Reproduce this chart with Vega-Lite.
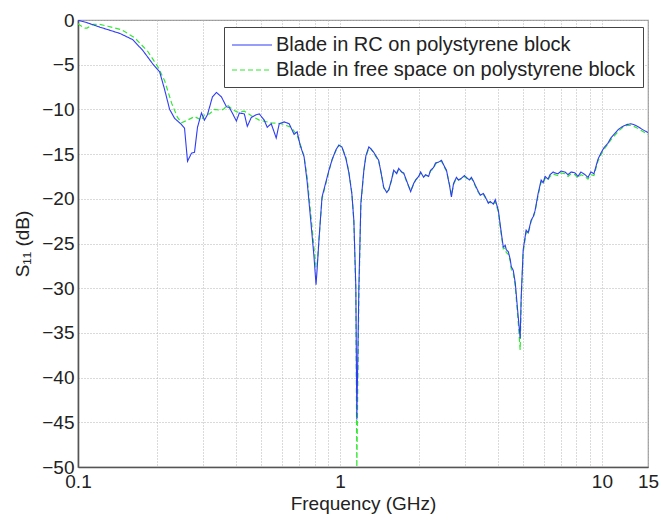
{
  "$schema": "https://vega.github.io/schema/vega-lite/v6.json",
  "autosize": "none",
  "width": 570,
  "height": 447,
  "padding": {"left": 78, "top": 20, "right": 13, "bottom": 53},
  "background": "white",
  "config": {
    "font": "Liberation Sans",
    "view": {"stroke": "#9a9a9a", "strokeWidth": 1.2},
    "axis": {
      "labelFont": "Liberation Sans",
      "titleFont": "Liberation Sans",
      "labelFontSize": 19,
      "titleFontSize": 19,
      "titleFontWeight": "normal",
      "labelColor": "#222",
      "titleColor": "#222",
      "domainColor": "#555",
      "domainWidth": 1.6,
      "gridColor": "#b4b4b4",
      "gridDash": [1, 2],
      "gridWidth": 1,
      "ticks": false
    },
    "legend": {"labelFont": "Liberation Sans", "labelFontSize": 20, "labelColor": "#222"}
  },
  "datasets": {
    "rc": [
      {"f": 0.1, "s": 0.0}, {"f": 0.1018, "s": -0.1}, {"f": 0.1082, "s": -0.3}, {"f": 0.1212, "s": -0.8},
      {"f": 0.1444, "s": -1.5}, {"f": 0.1618, "s": -2.2}, {"f": 0.1767, "s": -3.4}, {"f": 0.1928, "s": -4.9},
      {"f": 0.205, "s": -5.8}, {"f": 0.2142, "s": -7.8}, {"f": 0.2238, "s": -10.0}, {"f": 0.2338, "s": -11.0},
      {"f": 0.2485, "s": -11.7}, {"f": 0.2551, "s": -12.1}, {"f": 0.2619, "s": -15.8}, {"f": 0.2712, "s": -14.9},
      {"f": 0.2785, "s": -14.8}, {"f": 0.2859, "s": -12.0}, {"f": 0.2961, "s": -10.4}, {"f": 0.304, "s": -11.2},
      {"f": 0.312, "s": -10.6}, {"f": 0.326, "s": -8.6}, {"f": 0.3377, "s": -8.1}, {"f": 0.3528, "s": -8.6},
      {"f": 0.3686, "s": -9.7}, {"f": 0.3784, "s": -9.8}, {"f": 0.3882, "s": -10.4}, {"f": 0.4024, "s": -11.3},
      {"f": 0.413, "s": -10.4}, {"f": 0.4315, "s": -10.5}, {"f": 0.4429, "s": -11.9}, {"f": 0.4588, "s": -10.9},
      {"f": 0.4794, "s": -10.6}, {"f": 0.492, "s": -10.5}, {"f": 0.514, "s": -11.2}, {"f": 0.5277, "s": -12.0},
      {"f": 0.5466, "s": -11.6}, {"f": 0.5711, "s": -13.2}, {"f": 0.5865, "s": -11.6}, {"f": 0.6124, "s": -11.4},
      {"f": 0.64, "s": -11.6}, {"f": 0.6685, "s": -12.8}, {"f": 0.6864, "s": -12.5}, {"f": 0.7047, "s": -14.0},
      {"f": 0.7297, "s": -15.3}, {"f": 0.749, "s": -18.0}, {"f": 0.7757, "s": -22.8}, {"f": 0.7962, "s": -26.5},
      {"f": 0.8105, "s": -29.6}, {"f": 0.8177, "s": -28.0}, {"f": 0.832, "s": -24.5}, {"f": 0.8543, "s": -19.8},
      {"f": 0.908, "s": -16.8}, {"f": 0.934, "s": -15.6}, {"f": 0.966, "s": -14.5}, {"f": 0.991, "s": -14.0},
      {"f": 1.0177, "s": -14.2}, {"f": 1.054, "s": -15.5}, {"f": 1.082, "s": -17.1}, {"f": 1.111, "s": -19.5},
      {"f": 1.13, "s": -22.4}, {"f": 1.15, "s": -29.9}, {"f": 1.16, "s": -44.7}, {"f": 1.181, "s": -30.0},
      {"f": 1.202, "s": -20.5}, {"f": 1.234, "s": -16.8}, {"f": 1.256, "s": -15.2}, {"f": 1.289, "s": -14.2},
      {"f": 1.312, "s": -14.4}, {"f": 1.346, "s": -14.8}, {"f": 1.406, "s": -15.7}, {"f": 1.444, "s": -17.5},
      {"f": 1.469, "s": -18.7}, {"f": 1.509, "s": -19.3}, {"f": 1.536, "s": -19.0}, {"f": 1.576, "s": -17.8},
      {"f": 1.604, "s": -16.8}, {"f": 1.647, "s": -17.2}, {"f": 1.676, "s": -16.6}, {"f": 1.721, "s": -17.0},
      {"f": 1.751, "s": -17.1}, {"f": 1.798, "s": -18.0}, {"f": 1.862, "s": -19.2}, {"f": 1.911, "s": -18.3},
      {"f": 1.945, "s": -17.9}, {"f": 1.998, "s": -17.5}, {"f": 2.032, "s": -17.0}, {"f": 2.087, "s": -17.6},
      {"f": 2.123, "s": -17.3}, {"f": 2.18, "s": -17.5}, {"f": 2.218, "s": -16.8}, {"f": 2.278, "s": -16.5},
      {"f": 2.317, "s": -16.0}, {"f": 2.379, "s": -15.9}, {"f": 2.442, "s": -15.7}, {"f": 2.507, "s": -16.4},
      {"f": 2.551, "s": -16.8}, {"f": 2.62, "s": -18.5}, {"f": 2.665, "s": -19.8}, {"f": 2.714, "s": -18.3},
      {"f": 2.784, "s": -17.6}, {"f": 2.835, "s": -17.9}, {"f": 2.909, "s": -17.7}, {"f": 2.987, "s": -17.4},
      {"f": 3.039, "s": -17.6}, {"f": 3.121, "s": -17.9}, {"f": 3.175, "s": -17.6}, {"f": 3.232, "s": -18.0},
      {"f": 3.288, "s": -18.5}, {"f": 3.377, "s": -19.2}, {"f": 3.436, "s": -19.6}, {"f": 3.528, "s": -19.4},
      {"f": 3.59, "s": -19.8}, {"f": 3.686, "s": -20.5}, {"f": 3.75, "s": -20.3}, {"f": 3.852, "s": -20.6},
      {"f": 3.918, "s": -20.1}, {"f": 4.025, "s": -21.3}, {"f": 4.13, "s": -23.8}, {"f": 4.204, "s": -25.4},
      {"f": 4.277, "s": -25.2}, {"f": 4.315, "s": -25.7}, {"f": 4.392, "s": -25.9}, {"f": 4.47, "s": -26.8},
      {"f": 4.51, "s": -27.6}, {"f": 4.588, "s": -28.0}, {"f": 4.67, "s": -29.4}, {"f": 4.793, "s": -33.2},
      {"f": 4.876, "s": -35.6}, {"f": 4.92, "s": -31.0}, {"f": 5.007, "s": -25.7}, {"f": 5.14, "s": -23.5},
      {"f": 5.233, "s": -23.8}, {"f": 5.37, "s": -22.4}, {"f": 5.467, "s": -22.0}, {"f": 5.56, "s": -21.3},
      {"f": 5.711, "s": -19.4}, {"f": 5.864, "s": -17.9}, {"f": 5.967, "s": -18.2}, {"f": 6.07, "s": -17.5},
      {"f": 6.232, "s": -17.8}, {"f": 6.34, "s": -17.3}, {"f": 6.513, "s": -17.0}, {"f": 6.62, "s": -17.1},
      {"f": 6.8, "s": -17.2}, {"f": 6.985, "s": -16.9}, {"f": 7.23, "s": -17.0}, {"f": 7.43, "s": -17.3},
      {"f": 7.625, "s": -17.0}, {"f": 7.89, "s": -17.1}, {"f": 8.1, "s": -17.5}, {"f": 8.32, "s": -17.0},
      {"f": 8.62, "s": -17.3}, {"f": 8.85, "s": -17.6}, {"f": 9.08, "s": -17.0}, {"f": 9.324, "s": -17.2},
      {"f": 9.49, "s": -16.4}, {"f": 9.656, "s": -15.6}, {"f": 9.91, "s": -14.9}, {"f": 10.18, "s": -14.3},
      {"f": 10.54, "s": -13.8}, {"f": 10.82, "s": -13.2}, {"f": 11.2, "s": -12.7}, {"f": 11.6, "s": -12.2},
      {"f": 12.02, "s": -11.9}, {"f": 12.45, "s": -11.7}, {"f": 12.9, "s": -11.6}, {"f": 13.24, "s": -11.7},
      {"f": 13.7, "s": -11.9}, {"f": 14.19, "s": -12.2}, {"f": 15.0, "s": -12.6}
    ],
    "fs": [
      {"f": 0.1, "s": -0.4}, {"f": 0.1018, "s": -0.6}, {"f": 0.1063, "s": -0.9}, {"f": 0.1082, "s": -0.9},
      {"f": 0.114, "s": -0.5}, {"f": 0.1212, "s": -0.5}, {"f": 0.13, "s": -0.7}, {"f": 0.147, "s": -1.1},
      {"f": 0.1647, "s": -2.0}, {"f": 0.1845, "s": -3.5}, {"f": 0.2015, "s": -5.2}, {"f": 0.2142, "s": -6.8},
      {"f": 0.2277, "s": -9.3}, {"f": 0.2399, "s": -10.9}, {"f": 0.2485, "s": -11.5}, {"f": 0.2619, "s": -11.2},
      {"f": 0.2785, "s": -10.8}, {"f": 0.2961, "s": -11.2}, {"f": 0.304, "s": -10.6}, {"f": 0.3175, "s": -10.5},
      {"f": 0.3318, "s": -10.0}, {"f": 0.3528, "s": -10.1}, {"f": 0.3622, "s": -9.9}, {"f": 0.3717, "s": -9.5},
      {"f": 0.3882, "s": -10.0}, {"f": 0.4056, "s": -10.3}, {"f": 0.4315, "s": -10.2}, {"f": 0.4429, "s": -10.4},
      {"f": 0.4588, "s": -10.7}, {"f": 0.492, "s": -11.2}, {"f": 0.5466, "s": -11.5}, {"f": 0.5967, "s": -11.6},
      {"f": 0.6513, "s": -12.0}, {"f": 0.6864, "s": -12.9}, {"f": 0.711, "s": -14.2}, {"f": 0.7297, "s": -15.3},
      {"f": 0.749, "s": -17.5}, {"f": 0.7757, "s": -22.0}, {"f": 0.7962, "s": -25.5}, {"f": 0.8105, "s": -27.6},
      {"f": 0.8177, "s": -27.6}, {"f": 0.832, "s": -24.5}, {"f": 0.8543, "s": -20.0}, {"f": 0.908, "s": -16.9},
      {"f": 0.934, "s": -15.6}, {"f": 0.966, "s": -14.6}, {"f": 0.991, "s": -14.0}, {"f": 1.0177, "s": -14.2},
      {"f": 1.054, "s": -15.4}, {"f": 1.082, "s": -17.0}, {"f": 1.111, "s": -19.4}, {"f": 1.13, "s": -22.5},
      {"f": 1.15, "s": -30.5}, {"f": 1.16, "s": -50.0}, {"f": 1.181, "s": -31.0}, {"f": 1.202, "s": -20.7},
      {"f": 1.234, "s": -16.9}, {"f": 1.256, "s": -15.3}, {"f": 1.289, "s": -14.3}, {"f": 1.312, "s": -14.4},
      {"f": 1.346, "s": -14.9}, {"f": 1.406, "s": -15.8}, {"f": 1.444, "s": -17.4}, {"f": 1.469, "s": -18.8},
      {"f": 1.509, "s": -19.2}, {"f": 1.536, "s": -19.0}, {"f": 1.576, "s": -17.9}, {"f": 1.604, "s": -16.9},
      {"f": 1.647, "s": -17.1}, {"f": 1.676, "s": -16.7}, {"f": 1.721, "s": -17.0}, {"f": 1.751, "s": -17.2},
      {"f": 1.798, "s": -18.1}, {"f": 1.862, "s": -19.1}, {"f": 1.911, "s": -18.4}, {"f": 1.945, "s": -17.9},
      {"f": 1.998, "s": -17.6}, {"f": 2.032, "s": -17.1}, {"f": 2.087, "s": -17.5}, {"f": 2.123, "s": -17.4},
      {"f": 2.18, "s": -17.4}, {"f": 2.218, "s": -16.9}, {"f": 2.278, "s": -16.6}, {"f": 2.317, "s": -16.1},
      {"f": 2.379, "s": -15.9}, {"f": 2.442, "s": -15.8}, {"f": 2.507, "s": -16.5}, {"f": 2.551, "s": -16.9},
      {"f": 2.62, "s": -18.4}, {"f": 2.665, "s": -19.6}, {"f": 2.714, "s": -18.4}, {"f": 2.784, "s": -17.7},
      {"f": 2.835, "s": -17.9}, {"f": 2.909, "s": -17.8}, {"f": 2.987, "s": -17.5}, {"f": 3.039, "s": -17.7},
      {"f": 3.121, "s": -17.9}, {"f": 3.175, "s": -17.7}, {"f": 3.232, "s": -18.1}, {"f": 3.288, "s": -18.6},
      {"f": 3.377, "s": -19.3}, {"f": 3.436, "s": -19.6}, {"f": 3.528, "s": -19.5}, {"f": 3.59, "s": -19.9},
      {"f": 3.686, "s": -20.4}, {"f": 3.75, "s": -20.4}, {"f": 3.852, "s": -20.6}, {"f": 3.918, "s": -20.3},
      {"f": 4.025, "s": -21.5}, {"f": 4.13, "s": -24.0}, {"f": 4.204, "s": -25.6}, {"f": 4.277, "s": -25.5},
      {"f": 4.315, "s": -26.0}, {"f": 4.392, "s": -26.2}, {"f": 4.47, "s": -27.0}, {"f": 4.51, "s": -27.9},
      {"f": 4.588, "s": -28.3}, {"f": 4.67, "s": -29.8}, {"f": 4.793, "s": -33.8}, {"f": 4.876, "s": -36.9},
      {"f": 4.92, "s": -31.5}, {"f": 5.007, "s": -26.0}, {"f": 5.14, "s": -23.7}, {"f": 5.233, "s": -23.9},
      {"f": 5.37, "s": -22.5}, {"f": 5.467, "s": -22.1}, {"f": 5.56, "s": -21.4}, {"f": 5.711, "s": -19.6},
      {"f": 5.864, "s": -18.1}, {"f": 5.967, "s": -18.3}, {"f": 6.07, "s": -17.7}, {"f": 6.232, "s": -17.9},
      {"f": 6.34, "s": -17.5}, {"f": 6.513, "s": -17.2}, {"f": 6.62, "s": -17.3}, {"f": 6.8, "s": -17.4},
      {"f": 6.985, "s": -17.1}, {"f": 7.23, "s": -17.2}, {"f": 7.43, "s": -17.5}, {"f": 7.625, "s": -17.2},
      {"f": 7.89, "s": -17.3}, {"f": 8.1, "s": -17.7}, {"f": 8.32, "s": -17.3}, {"f": 8.62, "s": -17.5},
      {"f": 8.85, "s": -17.8}, {"f": 9.08, "s": -17.3}, {"f": 9.324, "s": -17.4}, {"f": 9.49, "s": -16.6},
      {"f": 9.656, "s": -15.8}, {"f": 9.91, "s": -15.1}, {"f": 10.18, "s": -14.5}, {"f": 10.54, "s": -13.9},
      {"f": 10.82, "s": -13.4}, {"f": 11.2, "s": -12.9}, {"f": 11.6, "s": -12.4}, {"f": 12.02, "s": -12.0},
      {"f": 12.45, "s": -11.8}, {"f": 12.9, "s": -11.8}, {"f": 13.24, "s": -11.9}, {"f": 13.7, "s": -12.1},
      {"f": 14.19, "s": -12.4}, {"f": 15.0, "s": -12.8}
    ]
  },
  "encoding": {
    "x": {
      "field": "f", "type": "quantitative",
      "scale": {"type": "log", "domain": [0.1, 15], "nice": false},
      "axis": {
        "title": "Frequency (GHz)",
        "values": [0.1, 0.2, 0.3, 0.4, 0.5, 0.6, 0.7, 0.8, 0.9, 1, 2, 3, 4, 5, 6, 7, 8, 9, 10, 15],
        "labelExpr": "datum.value == 0.1 ? '0.1' : datum.value == 1 ? '1' : datum.value == 10 ? '10' : datum.value == 15 ? '15' : ''",
        "labelPadding": 5,
        "labelFlush": false,
        "labelOverlap": false,
        "titlePadding": 3
      }
    },
    "y": {
      "field": "s", "type": "quantitative",
      "scale": {"domain": [-50, 0], "nice": false},
      "axis": {
        "title": "S₁₁ (dB)",
        "values": [-50, -45, -40, -35, -30, -25, -20, -15, -10, -5, 0],
        "labelPadding": 4,
        "labelFlush": false,
        "labelOverlap": false,
        "titlePadding": 9
      }
    },
    "color": {
      "field": "series", "type": "nominal",
      "scale": {
        "domain": ["Blade in RC on polystyrene block", "Blade in free space on polystyrene block"],
        "range": ["#2f3cf5", "#33e833"]
      },
      "legend": {
        "title": null,
        "orient": "none",
        "legendX": 146,
        "legendY": 7,
        "direction": "vertical",
        "symbolType": "M-1,0H3",
        "symbolSize": 400,
        "symbolStrokeWidth": 1.2,
        "fillColor": "white",
        "strokeColor": "#444",
        "padding": 7,
        "rowPadding": 4,
        "labelOffset": 23,
        "labelLimit": 0
      }
    },
    "strokeDash": {
      "field": "series", "type": "nominal",
      "scale": {
        "domain": ["Blade in RC on polystyrene block", "Blade in free space on polystyrene block"],
        "range": [[1, 0], [5, 3]]
      },
      "legend": null
    }
  },
  "layer": [
    {
      "data": {"name": "fs"},
      "transform": [{"calculate": "'Blade in free space on polystyrene block'", "as": "series"}],
      "mark": {"type": "line", "strokeWidth": 1.2, "clip": true}
    },
    {
      "data": {"name": "rc"},
      "transform": [{"calculate": "'Blade in RC on polystyrene block'", "as": "series"}],
      "mark": {"type": "line", "strokeWidth": 1.1, "clip": true}
    }
  ]
}
